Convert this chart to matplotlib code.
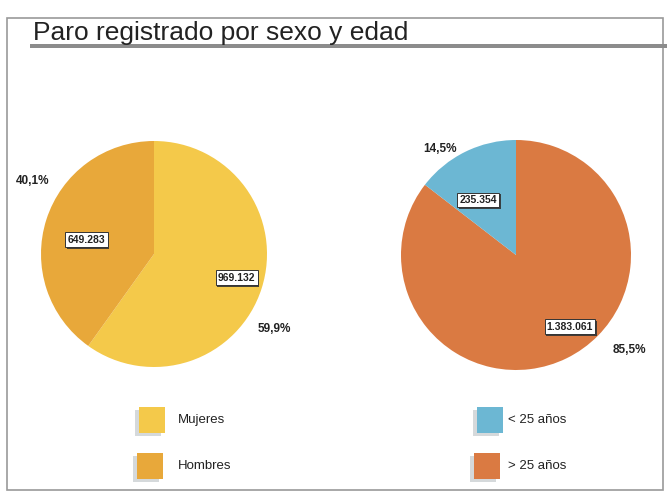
import matplotlib.pyplot as plt
import matplotlib.patches as mpatches
import matplotlib.patheffects as pe
import numpy as np

plt.rcParams['font.family'] = ['Liberation Sans', 'DejaVu Sans']

title = "Paro registrado por sexo y edad"

sexo_labels = ["Mujeres", "Hombres"]
sexo_values = [969132, 649283]
sexo_text = ["969.132", "649.283"]
sexo_pct = ["59,9%", "40,1%"]
sexo_colors = ["#F4C94A", "#E8A83A"]

edad_labels = ["> 25 años", "< 25 años"]
edad_values = [1383061, 235354]
edad_text = ["1.383.061", "235.354"]
edad_pct = ["85,5%", "14,5%"]
edad_colors = ["#DA7A42", "#6CB7D3"]

W, H = 667, 492
fig = plt.figure(figsize=(W / 100, H / 100), dpi=100)
fig.patch.set_facecolor("white")


def px_axes(cx, cy, r):
    return fig.add_axes([(cx - r) / W, (H - cy - r) / H, 2 * r / W, 2 * r / H])


def draw_pie(ax, values, colors, texts, pcts, val_pos, pct_pos):
    ax.pie(values, colors=colors, startangle=90, counterclock=False,
           radius=1.0, wedgeprops=dict(linewidth=0))
    ax.set_xlim(-1, 1)
    ax.set_ylim(-1, 1)
    ax.set_aspect("equal")
    ax.axis("off")
    for t, (r, a) in zip(texts, val_pos):
        x, y = r * np.cos(np.radians(a)), r * np.sin(np.radians(a))
        txt = ax.text(x, y, t, ha="center", va="center", fontsize=7.5,
                      fontweight="bold", color="#222222",
                      bbox=dict(boxstyle="square,pad=0.22", fc="white",
                                ec="#333333", lw=0.7))
        txt.get_bbox_patch().set_path_effects(
            [pe.SimplePatchShadow(offset=(1.2, -1.2), shadow_rgbFace="#333333",
                                  alpha=0.9), pe.Normal()])
    for t, (r, a) in zip(pcts, pct_pos):
        x, y = r * np.cos(np.radians(a)), r * np.sin(np.radians(a))
        ax.text(x, y, t, ha="center", va="center", fontsize=8.5,
                fontweight="bold", color="#222222", clip_on=False)


ax1 = px_axes(154, 254, 113)
draw_pie(ax1, sexo_values, sexo_colors, sexo_text, sexo_pct,
         [(0.76, -16), (0.61, 168)], [(1.26, -32), (1.25, 149)])

ax2 = px_axes(516, 255, 115)
draw_pie(ax2, edad_values, edad_colors, edad_text, edad_pct,
         [(0.78, -53), (0.58, 124.6)], [(1.29, -40), (1.13, 125.6)])

# frame and title bar
fig.patches.append(mpatches.Rectangle((7 / W, 1 - 490 / H), 656 / W, 472 / H,
                                      transform=fig.transFigure, fill=False,
                                      ec="#9a9a9a", lw=1.2))
fig.patches.append(mpatches.Rectangle((30 / W, 1 - 48 / H), 637 / W, 4 / H,
                                      transform=fig.transFigure, fc="#8c8c8c",
                                      ec="none"))
fig.text(33 / W, 1 - 40 / H, title, fontsize=19, color="#222222",
         ha="left", va="baseline")

# legends
leg_items = [
    (sexo_labels[0], sexo_colors[0], 152, 420, 178),
    (sexo_labels[1], sexo_colors[1], 150, 466, 178),
    (edad_labels[1], edad_colors[1], 490, 420, 508),
    (edad_labels[0], edad_colors[0], 487, 466, 508),
]
for lab, col, cx, cy, tx in leg_items:
    s = 26
    shadow = mpatches.Rectangle(((cx - s / 2 - 4) / W, 1 - (cy + s / 2 + 3) / H),
                                s / W, s / H, transform=fig.transFigure,
                                fc="#d5d9db", ec="none")
    fig.patches.append(shadow)
    sq = mpatches.Rectangle(((cx - s / 2) / W, 1 - (cy + s / 2) / H),
                            s / W, s / H, transform=fig.transFigure,
                            fc=col, ec="none")
    fig.patches.append(sq)
    fig.text(tx / W, 1 - cy / H, lab, fontsize=9.5, color="#222222",
             ha="left", va="center")

fig.savefig("out.png", dpi=100)
